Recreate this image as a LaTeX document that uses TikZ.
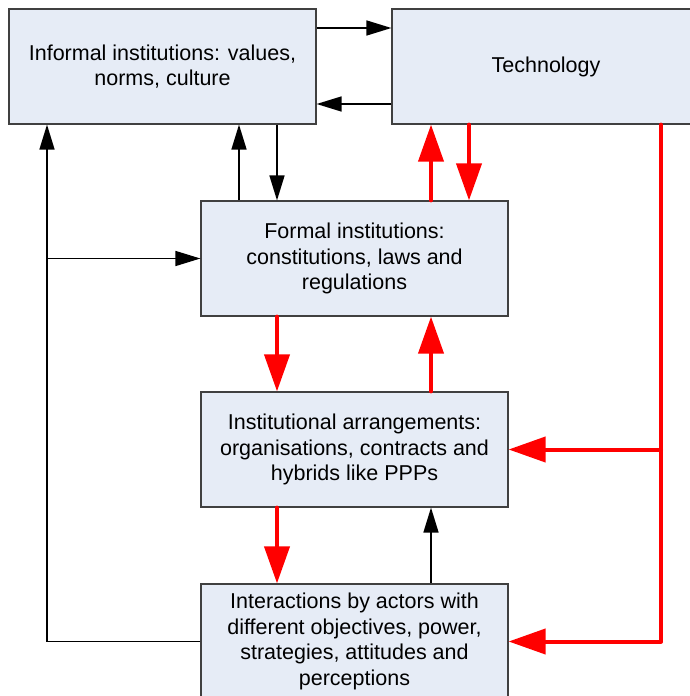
\documentclass[tikz,border=0pt]{standalone}
\usepackage{fontspec}
\setmainfont{Liberation Sans}
\usetikzlibrary{arrows.meta}
\definecolor{boxfill}{HTML}{E6ECF6}
\definecolor{boxline}{HTML}{404040}
\definecolor{redline}{HTML}{FF0000}
\begin{document}
\begin{tikzpicture}[x=1pt,y=-1pt]
			\tikzstyle{every node}+=[inner sep=0pt]
			\tikzstyle{box}=[draw=boxline,line width=1.2pt,fill=boxfill,minimum width=307pt,minimum height=115pt,align=center,font=\fontsize{21.5}{25.5}\selectfont]
			\tikzstyle{blk}=[black,line width=1.5pt,-{Triangle[length=25pt,width=15pt]}]
			\tikzstyle{rd}=[redline,line width=4pt,line cap=round,line join=round,-{Triangle[length=37pt,width=25pt]}]
			\useasboundingbox (0,0) rectangle (689,696);
			\node [box] (informal) at (162.5,66.5) {Informal institutions: values,\\norms, culture};
			\node [box,minimum width=308pt] (tech) at (546,66.5) {Technology};
			\node [box] (formal) at (354.5,258.5) {Formal institutions:\\constitutions, laws and\\regulations};
			\node [box] (arrangements) at (354.5,449.5) {Institutional arrangements:\\organisations, contracts and\\hybrids like PPPs};
			\node [box] (interactions) at (354.5,641.5) {Interactions by actors with\\different objectives, power,\\strategies, attitudes and\\perceptions};
			\coordinate (xl) at (47,0);
			\coordinate (xa) at (239,0);
			\coordinate (xb) at (277,0);
			\coordinate (xc) at (431,0);
			\coordinate (xd) at (469,0);
			\coordinate (xr) at (661,0);
			\coordinate (yt) at (0,28);
			\coordinate (yu) at (0,104);
			\draw [blk] (informal.east |- yt) -- (tech.west |- yt);
			\draw [blk] (tech.west |- yu) -- (informal.east |- yu);
			\draw [blk] (xa |- formal.north) -- (xa |- informal.south);
			\draw [blk] (xb |- informal.south) -- (xb |- formal.north);
			\draw [blk] (interactions.west) -| (xl |- informal.south);
			\draw [blk] (xl |- formal.west) -- (formal.west);
			\draw [rd] (xc |- formal.north) -- (xc |- tech.south);
			\draw [rd] (xd |- tech.south) -- (xd |- formal.north);
			\draw [rd] (xb |- formal.south) -- (xb |- arrangements.north);
			\draw [rd] (xc |- arrangements.north) -- (xc |- formal.south);
			\draw [rd] (xb |- arrangements.south) -- (xb |- interactions.north);
			\draw [blk] (xc |- interactions.north) -- (xc |- arrangements.south);
			\draw [rd] (xr |- tech.south) |- (interactions.east);
			\draw [rd] (xr |- arrangements.east) -- (arrangements.east);
\end{tikzpicture}
\end{document}
